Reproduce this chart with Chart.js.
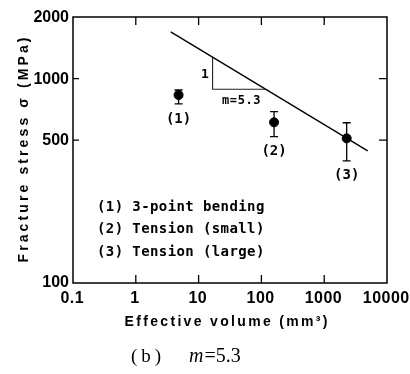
<!DOCTYPE html>
<html>
<head>
<meta charset="utf-8">
<script src="https://cdn.jsdelivr.net/npm/chart.js@4.4.1/dist/chart.umd.min.js"></script>
<style>
html,body{margin:0;padding:0;background:#fff;}
#wrap{width:410px;height:374px;position:relative;}
</style>
</head>
<body>
<div id="wrap"><canvas id="c" width="410" height="374"></canvas></div>
<script>
// ---- data ----
const volume = [4.8, 159, 2280];
const stress = [831, 611, 510];
const errHigh = [879, 689, 608];
const errLow = [751, 520, 396];
const pointLabels = ['(1)', '(2)', '(3)'];
const fitVolume = [3.6, 4930];
const fitStress = [1690, 443];
const triVolume = [16.7, 16.7, 114];
const triStress = [1270, 886, 886];
const xTicks = [0.1, 1, 10, 100, 1000, 10000];
const xTickLabels = ['0.1', '1', '10', '100', '1000', '10000'];
const yTicks = [100, 500, 1000, 2000];
const yTickLabels = ['100', '500', '1000', '2000'];
const legendLines = ['(1) 3-point bending', '(2) Tension (small)', '(3) Tension (large)'];
const xTitle = 'Effective volume (mm³)';
const yTitle = 'Fracture stress σ (MPa)';
const slopeLabel = 'm=5.3';

function spacedText(ctx, text, x, y, spacing, align) {
  const chars = Array.from(text);
  let total = 0;
  const ws = chars.map(c => ctx.measureText(c).width);
  ws.forEach(w => total += w);
  total += spacing * (chars.length - 1);
  let start = x;
  if (align === 'center') start = x - total / 2;
  else if (align === 'right') start = x - total;
  const prev = ctx.textAlign;
  ctx.textAlign = 'left';
  let cx = start;
  chars.forEach((c, i) => { ctx.fillText(c, cx, y); cx += ws[i] + spacing; });
  ctx.textAlign = prev;
  return total;
}
function fitText(ctx, text, x, y, width, align) {
  const chars = Array.from(text);
  let total = 0;
  chars.forEach(c => total += ctx.measureText(c).width);
  const sp = (width - total) / (chars.length - 1);
  spacedText(ctx, text, x, y, sp, align);
}

const decor = {
  id: 'decor',
  afterDatasetsDraw(chart) {
    const ctx = chart.ctx;
    const xs = chart.scales.x, ys = chart.scales.y;
    const a = chart.chartArea;
    ctx.save();
    ctx.strokeStyle = '#000';
    ctx.fillStyle = '#000';
    // error bars
    ctx.lineWidth = 1.3;
    for (let i = 0; i < volume.length; i++) {
      const px = xs.getPixelForValue(volume[i]);
      const pt = ys.getPixelForValue(errHigh[i]);
      const pb = ys.getPixelForValue(errLow[i]);
      ctx.beginPath();
      ctx.moveTo(px, pt); ctx.lineTo(px, pb);
      ctx.moveTo(px - 4, pt); ctx.lineTo(px + 4, pt);
      ctx.moveTo(px - 4, pb); ctx.lineTo(px + 4, pb);
      ctx.stroke();
      ctx.font = 'bold 14px "DejaVu Sans Mono"';
      ctx.textBaseline = 'middle';
      spacedText(ctx, pointLabels[i], px, pb + 15, 0, 'center');
    }
    // frame
    ctx.lineWidth = 1.5;
    ctx.strokeRect(a.left, a.top, a.right - a.left, a.bottom - a.top);
    // ticks
    ctx.lineWidth = 1.3;
    ctx.beginPath();
    xTicks.forEach(v => {
      if (v <= xs.min || v >= xs.max) return;
      const px = xs.getPixelForValue(v);
      ctx.moveTo(px, a.top); ctx.lineTo(px, a.top + 8);
      ctx.moveTo(px, a.bottom); ctx.lineTo(px, a.bottom - 8);
    });
    yTicks.forEach(v => {
      if (v <= ys.min || v >= ys.max) return;
      const py = ys.getPixelForValue(v);
      ctx.moveTo(a.right, py); ctx.lineTo(a.right - 8, py);
      ctx.moveTo(a.left, py); ctx.lineTo(a.left + 6, py);
    });
    ctx.stroke();
    // tick labels
    ctx.font = 'bold 16px "Liberation Sans"';
    ctx.textBaseline = 'middle';
    ctx.textAlign = 'right';
    yTicks.forEach((v, i) => {
      const py = ys.getPixelForValue(v);
      ctx.fillText(yTickLabels[i], 69, py + (i === 0 ? 0 : 1));
    });
    ctx.textAlign = 'center';
    xTicks.forEach((v, i) => {
      const px = xs.getPixelForValue(v);
      spacedText(ctx, xTickLabels[i], px - 1, a.bottom + 16, 0.5, 'center');
    });
    // axis titles
    ctx.font = 'bold 14px "Liberation Sans"';
    ctx.textBaseline = 'middle';
    fitText(ctx, xTitle, 226, 322, 203, 'center');
    ctx.save();
    ctx.translate(24, 150);
    ctx.rotate(-Math.PI / 2);
    fitText(ctx, yTitle, 0, 0, 225, 'center');
    ctx.restore();
    // slope annotations
    ctx.font = 'bold 13px "DejaVu Sans Mono"';
    ctx.textBaseline = 'middle';
    ctx.fillText('1', 205, 75);
    ctx.font = 'bold 12px "DejaVu Sans Mono"';
    spacedText(ctx, slopeLabel, 222, 101, 0.6, 'left');
    // legend text
    ctx.font = 'bold 14px "DejaVu Sans Mono"';
    legendLines.forEach((t, i) => {
      spacedText(ctx, t, 97, 207 + i * 22.5, 0.4, 'left');
    });
    // caption
    ctx.font = '19px "Liberation Serif"';
    ctx.textBaseline = 'middle';
    spacedText(ctx, '(b)', 131, 357, 4, 'left');
    ctx.font = 'italic 20px "Liberation Serif"';
    ctx.textAlign = 'left';
    ctx.fillText('m', 189, 357);
    const mw = ctx.measureText('m').width;
    ctx.font = '20px "Liberation Serif"';
    ctx.fillText('=5.3', 189 + mw + 1, 357);
    ctx.restore();
  }
};

new Chart(document.getElementById('c'), {
  type: 'scatter',
  data: {
    datasets: [
      {
        data: volume.map((v, i) => ({x: v, y: stress[i]})),
        pointRadius: 4.5,
        pointBackgroundColor: '#000',
        pointBorderColor: '#000',
        showLine: false
      },
      {
        data: fitVolume.map((v, i) => ({x: v, y: fitStress[i]})),
        showLine: true,
        borderColor: '#000',
        borderWidth: 1.4,
        pointRadius: 0
      },
      {
        data: triVolume.map((v, i) => ({x: v, y: triStress[i]})),
        showLine: true,
        borderColor: '#222',
        borderWidth: 1.1,
        pointRadius: 0
      }
    ]
  },
  options: {
    responsive: false,
    animation: false,
    devicePixelRatio: 1,
    layout: {padding: {left: 73, right: 23, top: 17, bottom: 91}},
    plugins: {legend: {display: false}, tooltip: {enabled: false}},
    scales: {
      x: {type: 'logarithmic', min: 0.1, max: 10000, display: false},
      y: {type: 'logarithmic', min: 100, max: 2000, display: false}
    }
  },
  plugins: [decor]
});
</script>
</body>
</html>
